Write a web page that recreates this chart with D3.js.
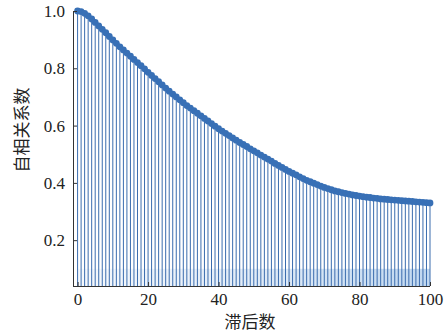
<!DOCTYPE html>
<html>
<head>
<meta charset="utf-8">
<script src="https://cdn.jsdelivr.net/npm/d3@7"></script>
<style>
  body { margin: 0; background: #fff; }
  svg { display: block; }
  .axis-label { font-family: "Noto Sans CJK SC", sans-serif; font-size: 17px; fill: #222; }
</style>
</head>
<body>
<svg id="chart" width="448" height="335"></svg>
<script>
// lag index (x categories)
const lags = d3.range(0, 101);

// autocorrelation coefficient for each lag
const acfValues = [
  1.000, 0.998, 0.992, 0.983, 0.972, 0.960, 0.948, 0.936, 0.924, 0.911,
  0.899, 0.887, 0.875, 0.864, 0.853, 0.842, 0.831, 0.820, 0.809, 0.798,
  0.786, 0.775, 0.764, 0.753, 0.742, 0.731, 0.720, 0.710, 0.700, 0.690,
  0.680, 0.670, 0.661, 0.652, 0.643, 0.634, 0.625, 0.616, 0.607, 0.598,
  0.589, 0.581, 0.573, 0.565, 0.557, 0.549, 0.541, 0.534, 0.527, 0.519,
  0.512, 0.505, 0.497, 0.490, 0.483, 0.476, 0.468, 0.461, 0.454, 0.447,
  0.440, 0.434, 0.428, 0.421, 0.415, 0.409, 0.404, 0.399, 0.394, 0.389,
  0.384, 0.380, 0.376, 0.372, 0.369, 0.366, 0.363, 0.361, 0.358, 0.356,
  0.354, 0.352, 0.350, 0.349, 0.347, 0.346, 0.344, 0.343, 0.342, 0.341,
  0.340, 0.339, 0.338, 0.337, 0.336, 0.335, 0.334, 0.333, 0.332, 0.331,
  0.330
];

const xTicks = [0, 20, 40, 60, 80, 100];
const yTicks = [0.2, 0.4, 0.6, 0.8, 1.0];
const xLabel = "滞后数";
const yLabel = "自相关系数";

const svg = d3.select("#chart");
const margin = { top: 11, right: 18, bottom: 49, left: 73 };
const width = 448, height = 335;

const x = d3.scaleLinear().domain([-1.3, 100]).range([margin.left, width - margin.right]);
const y = d3.scaleLinear().domain([0.04, 1.0]).range([height - margin.bottom, margin.top]);

const blue = "#3870b6";

// clip so stems stop at the bottom axis
svg.append("clipPath").attr("id", "plot-clip")
  .append("rect")
  .attr("x", margin.left).attr("y", 0)
  .attr("width", width - margin.left - margin.right + 10)
  .attr("height", y(0.04));

// faint band near the baseline, stronger to the right
const grad = svg.append("defs").append("linearGradient").attr("id", "band");
grad.append("stop").attr("offset", "0%").attr("stop-color", "#dfeaf6").attr("stop-opacity", 0.3);
grad.append("stop").attr("offset", "100%").attr("stop-color", "#b9d3ee").attr("stop-opacity", 0.9);

const plot = svg.append("g").attr("clip-path", "url(#plot-clip)");

plot.append("rect")
  .attr("x", x(0)).attr("y", y(0.1))
  .attr("width", x(100) - x(0)).attr("height", y(0.04) - y(0.1))
  .attr("fill", "url(#band)");

// stems
plot.selectAll(".stem")
  .data(lags)
  .enter()
  .append("line")
  .attr("class", "stem")
  .attr("x1", (d) => x(d)).attr("x2", (d) => x(d))
  .attr("y1", y(0)).attr("y2", (d) => y(acfValues[d]))
  .attr("stroke", "#3a6cae")
  .attr("stroke-width", 1);

// markers
svg.selectAll(".dot")
  .data(lags)
  .enter()
  .append("circle")
  .attr("class", "dot")
  .attr("cx", (d) => x(d))
  .attr("cy", (d) => y(acfValues[d]))
  .attr("r", 3.4)
  .attr("fill", blue);

// axes, ticks pointing inward
const xAxis = d3.axisBottom(x).tickValues(xTicks).tickFormat(d3.format("d")).tickSizeInner(-4).tickSizeOuter(0).tickPadding(7);
const yAxis = d3.axisLeft(y).tickValues(yTicks).tickFormat(d3.format(".1f")).tickSizeInner(-4).tickSizeOuter(0).tickPadding(8);

const gx = svg.append("g")
  .attr("transform", `translate(0,${height - margin.bottom})`)
  .call(xAxis);
gx.select(".domain").attr("d", `M${margin.left},0.5H${x(100)}`);

const gy = svg.append("g")
  .attr("transform", `translate(${margin.left},0)`)
  .call(yAxis);
gy.select(".domain").attr("d", `M0.5,${y(0.04)}V${y(1.0)}`);

svg.selectAll(".domain, .tick line").attr("stroke", "#333").attr("stroke-width", 1);

// serif numbers like the original
gx.attr("font-family", "Liberation Serif").attr("font-size", 17);
gy.attr("font-family", "Liberation Serif").attr("font-size", 17);
svg.selectAll(".tick text").attr("fill", "#222");

// axis titles
svg.append("text")
  .attr("class", "axis-label")
  .attr("text-anchor", "middle")
  .attr("x", 250).attr("y", 328)
  .text(xLabel);

svg.append("text")
  .attr("class", "axis-label")
  .attr("text-anchor", "middle")
  .attr("transform", "translate(28,130) rotate(-90)")
  .text(yLabel);
</script>
</body>
</html>
